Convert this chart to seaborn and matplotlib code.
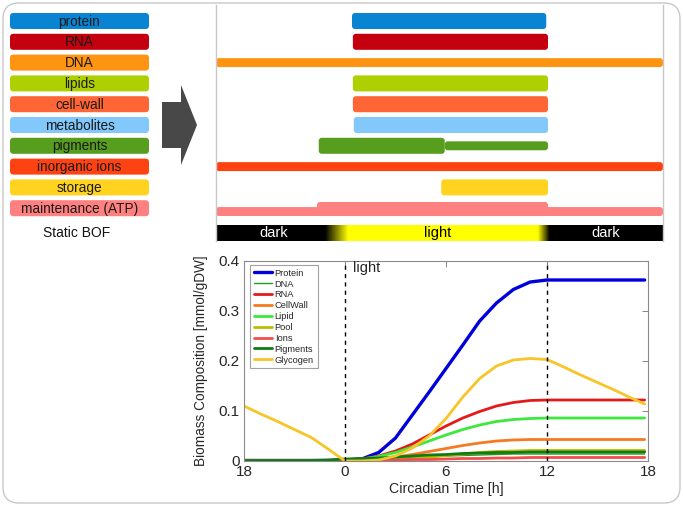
import numpy as np
import pandas as pd
import matplotlib
matplotlib.use("Agg")
import matplotlib.pyplot as plt
from matplotlib.patches import Polygon, FancyBboxPatch, Rectangle
from matplotlib.transforms import Affine2D
import seaborn as sns

sns.set_style("white")
plt.rcParams["font.family"] = ["Liberation Sans", "DejaVu Sans"]

# ---------------- data ----------------
bof_labels = ["protein", "RNA", "DNA", "lipids", "cell-wall", "metabolites",
              "pigments", "inorganic ions", "storage", "maintenance (ATP)"]
bof_colors = ["#0984D2", "#C4000E", "#FF9412", "#AECF00", "#FF6535",
              "#82C8FB", "#579E1E", "#FF4211", "#FFD320", "#FF8080"]

# activity windows in circadian hours (None = whole day)
bar_start = [0.8, 0.85, None, 0.85, 0.85, 0.9, -1.1, None, 5.9, None]
bar_end = [11.9, 12.0, None, 12.0, 12.0, 12.0, 6.1, None, 12.0, None]
pigment_thin = (6.1, 12.0)
maint_high = (-1.2, 12.0)
phase_labels = ["dark", "light", "dark"]
phase_pos = [-3.7, 5.7, 15.3]

t = [-6, -5, -4, -3, -2, -1, 0, 1, 2, 3, 4, 5, 6, 7, 8, 9, 10, 11, 12,
     13, 14, 15, 16, 17, 17.8]
protein = [0.001, 0.001, 0.001, 0.001, 0.001, 0.001, 0.002, 0.004, 0.017, 0.046,
           0.092, 0.138, 0.185, 0.232, 0.280, 0.316, 0.343, 0.358, 0.362,
           0.362, 0.362, 0.362, 0.362, 0.362, 0.362]
dna = [0.001, 0.001, 0.001, 0.001, 0.001, 0.001, 0.002, 0.003, 0.004, 0.005,
       0.007, 0.008, 0.010, 0.011, 0.012, 0.013, 0.014, 0.014, 0.014,
       0.014, 0.014, 0.014, 0.014, 0.014, 0.014]
rna = [0.001, 0.001, 0.001, 0.001, 0.001, 0.001, 0.002, 0.004, 0.010, 0.020,
       0.034, 0.052, 0.070, 0.086, 0.099, 0.110, 0.117, 0.121, 0.122,
       0.122, 0.122, 0.122, 0.122, 0.122, 0.122]
cellwall = [0.001, 0.001, 0.001, 0.001, 0.001, 0.001, 0.001, 0.002, 0.004, 0.008,
            0.013, 0.019, 0.025, 0.031, 0.036, 0.040, 0.042, 0.043, 0.043,
            0.043, 0.043, 0.043, 0.043, 0.043, 0.043]
lipid = [0.001, 0.001, 0.001, 0.001, 0.001, 0.001, 0.002, 0.004, 0.009, 0.017,
         0.028, 0.040, 0.052, 0.063, 0.072, 0.079, 0.083, 0.085, 0.086,
         0.086, 0.086, 0.086, 0.086, 0.086, 0.086]
pool = [0.001, 0.001, 0.001, 0.001, 0.001, 0.001, 0.001, 0.001, 0.001, 0.003,
        0.005, 0.008, 0.011, 0.014, 0.017, 0.019, 0.020, 0.021, 0.021,
        0.021, 0.021, 0.021, 0.021, 0.021, 0.021]
ions = [0.001, 0.001, 0.001, 0.001, 0.001, 0.001, 0.001, 0.001, 0.001, 0.002,
        0.003, 0.003, 0.004, 0.005, 0.005, 0.006, 0.006, 0.007, 0.007,
        0.007, 0.007, 0.007, 0.007, 0.007, 0.007]
pigments = [0.001, 0.001, 0.001, 0.001, 0.001, 0.002, 0.004, 0.005, 0.006, 0.008,
            0.010, 0.012, 0.013, 0.015, 0.016, 0.017, 0.017, 0.018, 0.018,
            0.018, 0.018, 0.018, 0.018, 0.018, 0.018]
glycogen = [0.110, 0.094, 0.079, 0.063, 0.047, 0.024, 0.000, 0.000, 0.002, 0.010,
            0.026, 0.050, 0.085, 0.128, 0.165, 0.190, 0.202, 0.205, 0.203,
            0.188, 0.172, 0.157, 0.142, 0.126, 0.114]

series_names = ["Protein", "DNA", "RNA", "CellWall", "Lipid", "Pool", "Ions",
                "Pigments", "Glycogen"]
series_values = [protein, dna, rna, cellwall, lipid, pool, ions, pigments, glycogen]
series_colors = ["#0000DC", "#1E9E1E", "#E41A1A", "#F57A20", "#3CE83C",
                 "#BDBD00", "#F24E4E", "#127A12", "#F7C527"]
series_lw = [2.4, 1.0, 2.0, 2.0, 2.0, 2.0, 2.0, 2.0, 2.0]

xtick_pos = [-6, 0, 6, 12, 18]
xtick_labels = ["18", "0", "6", "12", "18"]
ytick_pos = [0, 0.1, 0.2, 0.3, 0.4]
ytick_labels = ["0", "0.1", "0.2", "0.3", "0.4"]

# ---------------- figure ----------------
W, H = 683, 508
fig = plt.figure(figsize=(W / 100, H / 100), dpi=100)
fig.patch.set_facecolor("white")
px = Affine2D().scale(1 / W, 1 / H) + fig.transFigure

def ax_px(x0, y0, x1, y1):
    return fig.add_axes([x0 / W, 1 - y1 / H, (x1 - x0) / W, (y1 - y0) / H])

def round_bars(ax, r_x, aspect):
    """Replace the bar rectangles of an axes with rounded boxes of the same extent."""
    for p in list(ax.patches):
        if isinstance(p, Rectangle):
            x, y = p.get_x(), p.get_y()
            w, h = p.get_width(), p.get_height()
            if h < 0:
                y, h = y + h, -h
            fb = FancyBboxPatch((x, y), w, h,
                                boxstyle=f"round,pad=0,rounding_size={r_x}",
                                mutation_aspect=aspect,
                                facecolor=p.get_facecolor(), edgecolor="none",
                                zorder=p.get_zorder())
            p.remove()
            ax.add_patch(fb)

# outer rounded frame
frame = FancyBboxPatch((3, H - 503), 677, 500,
                       boxstyle="round,pad=0,rounding_size=16",
                       transform=px, fill=False, edgecolor="#c8c8c8", lw=1.0)
fig.patches.append(frame)

# row mapping: index i at pixel 21 + 20.8*i
ROW = 20.8
y_top_idx = (5 - 21) / ROW
y_bot_idx = (241 - 21) / ROW
thick, thin = 0.77, 0.43

# ---- left: static BOF labels ----
axl = ax_px(10, 5, 149, 241)
axl.set_xlim(0, 1)
axl.set_ylim(y_bot_idx, y_top_idx)
for i, (lab, col) in enumerate(zip(bof_labels, bof_colors)):
    axl.barh(i, 1.0, left=0, height=thick, color=col, edgecolor="none")
    axl.text(0.5, i + 0.03, lab, ha="center", va="center", fontsize=9.8, color="#1a1a1a")
axl.text(0.48, 10.19, "Static BOF", ha="center", va="center", fontsize=10, color="#111111")
round_bars(axl, 3.5 / 139, 139 / ROW)
axl.axis("off")

# ---- arrow ----
arrow_pts = [(162, 102), (181, 102), (181, 85), (197, 125), (181, 165), (181, 148), (162, 148)]
fig.patches.append(Polygon([(x, H - y) for x, y in arrow_pts], closed=True,
                           transform=px, facecolor="#484848", edgecolor="none"))

# ---- top right: dynamic bars ----
PXH = 17.5
axt = ax_px(216, 5, 663, 241)
xl, xr = (216 - 338) / PXH, (663 - 338) / PXH
axt.set_xlim(xl, xr)
axt.set_ylim(y_bot_idx, y_top_idx)
for i, col in enumerate(bof_colors):
    s, e = bar_start[i], bar_end[i]
    if i == 9:
        axt.barh(9.16, xr - xl, left=xl, height=thin, color=col, edgecolor="none")
        axt.barh(9.04, maint_high[1] - maint_high[0], left=maint_high[0],
                 height=0.675, color=col, edgecolor="none")
        continue
    if s is None:
        axt.barh(i, xr - xl, left=xl, height=thin, color=col, edgecolor="none")
    else:
        axt.barh(i, e - s, left=s, height=thick, color=col, edgecolor="none")
    if i == 6:
        axt.barh(i, pigment_thin[1] - pigment_thin[0], left=pigment_thin[0],
                 height=thin, color=col, edgecolor="none")
round_bars(axt, 3.0 / PXH, PXH / ROW)

# day/night strip
xs = np.linspace(xl, xr, 800)
w = np.clip(np.minimum((xs - (-0.74)) / 1.31, (12.1 - xs) / 0.67), 0, 1)
strip = np.zeros((1, len(xs), 3))
strip[0, :, 0] = w
strip[0, :, 1] = w
axt.imshow(strip, extent=(xl, xr, 10.577, 9.81), aspect="auto", interpolation="bilinear")
axt.set_xlim(xl, xr)
axt.set_ylim(y_bot_idx, y_top_idx)
for lab, xp in zip(phase_labels, phase_pos):
    axt.text(xp, 10.2, lab, ha="center", va="center", fontsize=10.5,
             color="black" if lab == "light" else "white")
axt.set_xticks([])
axt.set_yticks([])
for side in ["top", "bottom"]:
    axt.spines[side].set_visible(False)
for side in ["left", "right"]:
    axt.spines[side].set_color("#c8c8c8")
    axt.spines[side].set_linewidth(1.0)

# ---- bottom: biomass composition ----
axb = ax_px(244, 261, 648, 461)
for name, vals, col, lw in zip(series_names, series_values, series_colors, series_lw):
    df = pd.DataFrame({"t": t, "v": vals})
    sns.lineplot(data=df, x="t", y="v", ax=axb, color=col, lw=lw, label=name)
axb.axvline(0, color="black", ls="--", lw=1.0, dashes=(3, 3))
axb.axvline(12, color="black", ls="--", lw=1.0, dashes=(3, 3))
axb.text(0.5, 0.386, "light", fontsize=10.5, ha="left", va="center")
axb.set_xlim(-6, 18)
axb.set_ylim(0, 0.4)
axb.set_xticks(xtick_pos)
axb.set_xticklabels(xtick_labels)
axb.set_yticks(ytick_pos)
axb.set_yticklabels(ytick_labels)
axb.tick_params(direction="in", length=4, width=0.6, color="#707070",
                top=True, right=True, labelsize=11, pad=3)
for sp in axb.spines.values():
    sp.set_color("#8a8a8a")
    sp.set_linewidth(0.8)
axb.set_xlabel("Circadian Time [h]", fontsize=10.2, labelpad=2)
axb.set_ylabel("Biomass Composition [mmol/gDW]", fontsize=9.8, labelpad=8)
leg = axb.legend(loc="upper left", bbox_to_anchor=(6 / 404, 196 / 200),
                 borderaxespad=0, fontsize=6.7, handlelength=2.0,
                 handletextpad=0.25, labelspacing=0.2, borderpad=0.4,
                 fancybox=False, frameon=True)
leg.get_frame().set_edgecolor("#8a8a8a")
leg.get_frame().set_linewidth(0.8)

fig.savefig("out.png", dpi=100)
